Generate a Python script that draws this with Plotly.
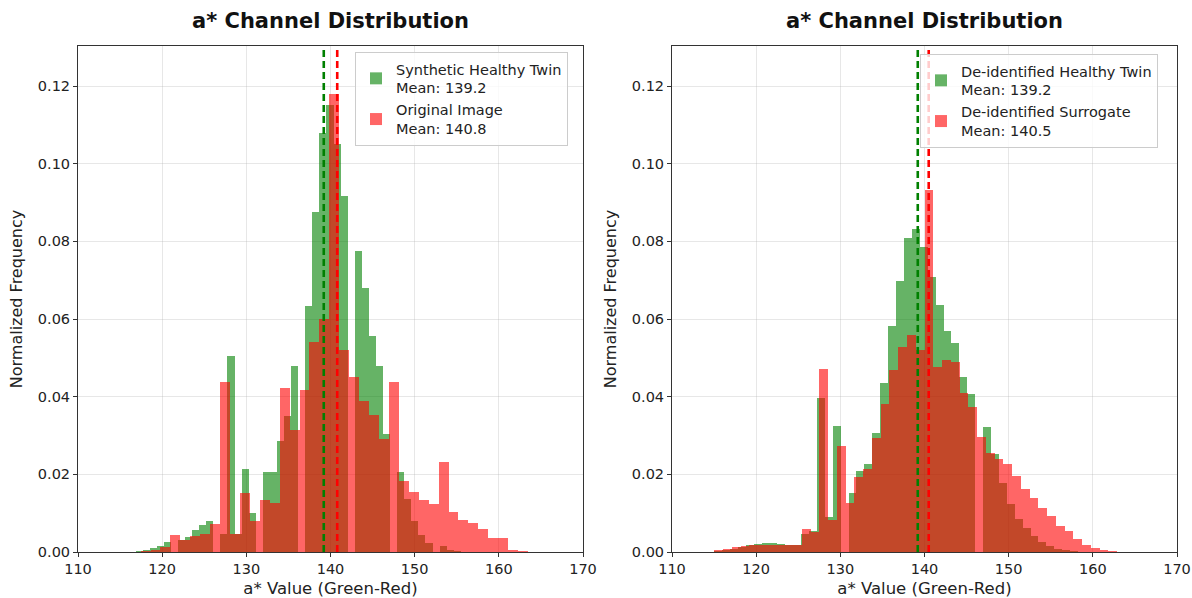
import numpy as np
import plotly.graph_objects as go

# ---------------- data ----------------
N_BINS = 50

# Left panel: Synthetic Healthy Twin (green) vs Original Image (red)
LEFT_GREEN_RANGE = (116, 158)
LEFT_GREEN = [0.0001, 0.0003, 0.0006, 0.0010, 0.0016, 0.0026, 0.0, 0.0030, 0.0039, 0.0056,
              0.0070, 0.0079, 0.0, 0.0047, 0.0506, 0.0047, 0.0214, 0.0100, 0.0, 0.0206,
              0.0205, 0.0287, 0.0350, 0.0480, 0.0, 0.0634, 0.0876, 0.1080, 0.1150, 0.1050,
              0.0917, 0.0, 0.0774, 0.0680, 0.0555, 0.0480, 0.0304, 0.0, 0.0206, 0.0137,
              0.0081, 0.0043, 0.0022, 0.0, 0.0015, 0.0005, 0.0002, 0.0001, 0.0, 0.0]
LEFT_RED_RANGE = (108, 167)
LEFT_RED = [0.0, 0.0, 0.0, 0.0, 0.0, 0.0, 0.0, 0.0001, 0.0003, 0.0006,
            0.0013, 0.0045, 0.0032, 0.0040, 0.0047, 0.0073, 0.0437, 0.0047, 0.0152, 0.0080,
            0.0135, 0.0125, 0.0423, 0.0313, 0.0417, 0.0540, 0.0600, 0.1180, 0.0520, 0.0450,
            0.0390, 0.0353, 0.0290, 0.0437, 0.0184, 0.0154, 0.0133, 0.0123, 0.0231, 0.0103,
            0.0083, 0.0075, 0.0060, 0.0036, 0.0036, 0.0006, 0.0002, 0.0001, 0.0, 0.0]
LEFT_GREEN_MEAN = 139.2
LEFT_RED_MEAN = 140.8

# Right panel: De-identified Healthy Twin (green) vs De-identified Surrogate (red)
RIGHT_GREEN_RANGE = (115, 162)
RIGHT_GREEN = [0.0002, 0.0005, 0.0009, 0.0013, 0.0017, 0.0021, 0.0023, 0.0023, 0.0021, 0.0019,
               0.0018, 0.0047, 0.0055, 0.0397, 0.0090, 0.0324, 0.0, 0.0152, 0.0208, 0.0227,
               0.0307, 0.0436, 0.0582, 0.0699, 0.0808, 0.0832, 0.0785, 0.0709, 0.0637, 0.0570,
               0.0537, 0.0451, 0.0408, 0.0, 0.0322, 0.0253, 0.0178, 0.0124, 0.0086, 0.0062,
               0.0040, 0.0026, 0.0015, 0.0009, 0.0005, 0.0003, 0.0001, 0.0001, 0.0, 0.0]
RIGHT_RED_RANGE = (114, 166)
RIGHT_RED = [0.0001, 0.0004, 0.0008, 0.0012, 0.0016, 0.0018, 0.0019, 0.0019, 0.0018, 0.0017,
             0.0017, 0.0058, 0.0052, 0.0470, 0.0082, 0.0273, 0.0126, 0.0193, 0.0215, 0.0294,
             0.0380, 0.0468, 0.0527, 0.0559, 0.0520, 0.0933, 0.0477, 0.0494, 0.0488, 0.0410,
             0.0373, 0.0296, 0.0256, 0.0240, 0.0227, 0.0195, 0.0161, 0.0138, 0.0114, 0.0092,
             0.0066, 0.0053, 0.0034, 0.0019, 0.0011, 0.0004, 0.0003, 0.0001, 0.0, 0.0]
RIGHT_GREEN_MEAN = 139.2
RIGHT_RED_MEAN = 140.5

TITLE = "a* Channel Distribution"
X_LABEL = "a* Value (Green-Red)"
Y_LABEL = "Normalized Frequency"
LEFT_NAMES = ["Synthetic Healthy Twin", "Original Image"]
RIGHT_NAMES = ["De-identified Healthy Twin", "De-identified Surrogate"]
X_TICKS = [110, 120, 130, 140, 150, 160, 170]
Y_TICKS = [0.0, 0.02, 0.04, 0.06, 0.08, 0.10, 0.12]

# ---------------- styling ----------------
W, H = 1192, 598
FONT = "DejaVu Sans"
GREEN_FILL = "rgba(0,128,0,0.6)"
RED_FILL = "rgba(255,0,0,0.6)"

fig = go.Figure()


def add_hist(values, rng, color, name, xa, ya, legend):
    edges = np.linspace(rng[0], rng[1], N_BINS + 1)
    centers = (edges[:-1] + edges[1:]) / 2
    widths = np.diff(edges)
    fig.add_trace(go.Bar(
        x=centers, y=values, width=widths, name=name,
        marker=dict(color=color, line=dict(width=0)),
        xaxis=xa, yaxis=ya, legend=legend, hoverinfo="x+y",
    ))


add_hist(LEFT_GREEN, LEFT_GREEN_RANGE, GREEN_FILL,
         f"{LEFT_NAMES[0]}<br>Mean: {LEFT_GREEN_MEAN:.1f}", "x", "y", "legend")
add_hist(LEFT_RED, LEFT_RED_RANGE, RED_FILL,
         f"{LEFT_NAMES[1]}<br>Mean: {LEFT_RED_MEAN:.1f}", "x", "y", "legend")
add_hist(RIGHT_GREEN, RIGHT_GREEN_RANGE, GREEN_FILL,
         f"{RIGHT_NAMES[0]}<br>Mean: {RIGHT_GREEN_MEAN:.1f}", "x2", "y2", "legend2")
add_hist(RIGHT_RED, RIGHT_RED_RANGE, RED_FILL,
         f"{RIGHT_NAMES[1]}<br>Mean: {RIGHT_RED_MEAN:.1f}", "x2", "y2", "legend2")

# mean lines
shapes = []
for xref, yref, m, c in [("x", "y domain", LEFT_GREEN_MEAN, "green"),
                         ("x", "y domain", LEFT_RED_MEAN, "red"),
                         ("x2", "y2 domain", RIGHT_GREEN_MEAN, "green"),
                         ("x2", "y2 domain", RIGHT_RED_MEAN, "red")]:
    shapes.append(dict(type="line", xref=xref, yref=yref, x0=m, x1=m, y0=0, y1=1,
                       line=dict(color=c, width=2.6, dash="7px,4px"), layer="above"))

# geometry (pixels -> paper)
L_X0, L_X1 = 78, 583
R_X0, R_X1 = 672, 1177
Y_TOP, Y_BOT = 46, 552
ydom = [1 - Y_BOT / H, 1 - Y_TOP / H]

axis_common = dict(
    showline=True, linecolor="#333333", linewidth=1, mirror=True,
    ticks="outside", ticklen=4, tickwidth=1, tickcolor="#333333",
    showgrid=True, gridcolor="rgba(176,176,176,0.3)", gridwidth=1,
    zeroline=False, tickfont=dict(family=FONT, size=14.5, color="#222222"),
    automargin=False,
)

xcommon = dict(axis_common, range=[110, 170], tickvals=X_TICKS,
               title=dict(text=X_LABEL, font=dict(family=FONT, size=16.5, color="#222222"), standoff=10))
ycommon = dict(axis_common, range=[0, 0.1303], tickvals=Y_TICKS, tickformat=".2f",
               title=dict(text=Y_LABEL, font=dict(family=FONT, size=16, color="#222222"), standoff=11))

legend_common = dict(
    xanchor="left", yanchor="top", bgcolor="rgba(255,255,255,0.8)",
    bordercolor="#cccccc", borderwidth=1, font=dict(family=FONT, size=14.5, color="#222222"),
    traceorder="normal", itemsizing="constant",
)

fig.update_layout(
    width=W, height=H, margin=dict(l=0, r=0, t=0, b=0),
    paper_bgcolor="white", plot_bgcolor="white",
    barmode="overlay", bargap=0, showlegend=True,
    font=dict(family=FONT, color="#222222"),
    xaxis=dict(xcommon, domain=[L_X0 / W, L_X1 / W], anchor="y"),
    yaxis=dict(ycommon, domain=ydom, anchor="x"),
    xaxis2=dict(xcommon, domain=[R_X0 / W, R_X1 / W], anchor="y2"),
    yaxis2=dict(ycommon, domain=ydom, anchor="x2"),
    legend=dict(legend_common, x=355 / W, y=1 - 52 / H),
    legend2=dict(legend_common, x=920 / W, y=1 - 54 / H),
    shapes=shapes,
    annotations=[
        dict(text=f"<b>{TITLE}</b>", x=(L_X0 + L_X1) / 2 / W, y=1 - 21 / H, xref="paper", yref="paper",
             showarrow=False, xanchor="center", yanchor="middle",
             font=dict(family=FONT, size=21, color="#111111")),
        dict(text=f"<b>{TITLE}</b>", x=(R_X0 + R_X1) / 2 / W, y=1 - 21 / H, xref="paper", yref="paper",
             showarrow=False, xanchor="center", yanchor="middle",
             font=dict(family=FONT, size=21, color="#111111")),
    ],
)

fig.write_html(
    "out.html",
    config={"displayModeBar": False},
    post_script="document.body.style.margin='0';document.body.style.overflow='hidden';",
)
